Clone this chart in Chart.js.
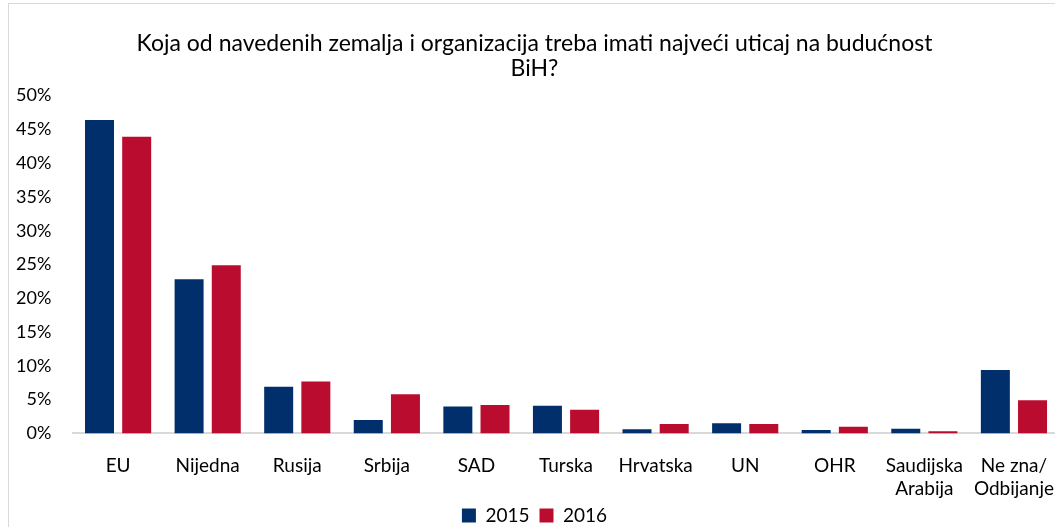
<!DOCTYPE html>
<html>
<head>
<meta charset="utf-8">
<script src="https://cdn.jsdelivr.net/npm/chart.js@4/dist/chart.umd.min.js"></script>
<style>
  html, body { margin: 0; padding: 0; background: #fff; overflow: hidden; }
  #frame { position: absolute; left: 8px; top: 3px; width: 1100px; height: 560px; border: 1px solid #d9d9d9; }
  #wrap { position: absolute; left: 0; top: 0; width: 1067px; height: 535px; }
</style>
</head>
<body>
<div id="frame"></div>
<div id="wrap"><canvas id="chart"></canvas></div>
<script>
const categories = ['EU', 'Nijedna', 'Rusija', 'Srbija', 'SAD', 'Turska', 'Hrvatska', 'UN', 'OHR', ['Saudijska', 'Arabija'], ['Ne zna/', 'Odbijanje']];
const values2015 = [46.4, 22.8, 6.9, 2.0, 4.0, 4.1, 0.6, 1.5, 0.5, 0.7, 9.4];
const values2016 = [43.9, 24.9, 7.7, 5.8, 4.2, 3.5, 1.4, 1.4, 1.0, 0.3, 4.9];
const titleLines = ['Koja od navedenih zemalja i organizacija treba imati najveći uticaj na budućnost', 'BiH?'];

const font = 'Lato, "Open Sans", sans-serif';
const squeeze = 17;

// the x scale is shrunk so the legend sits close, give its labels their clip room back
const unclipLabels = {
  id: 'unclipLabels',
  afterLayout(chart) { chart.scales.x.bottom += squeeze; }
};

const ctx = document.getElementById('chart').getContext('2d');
new Chart(ctx, {
  type: 'bar',
  data: {
    labels: categories,
    datasets: [
      { label: '2015', data: values2015, backgroundColor: '#002F6C', categoryPercentage: 0.83, barPercentage: 0.78 },
      { label: '2016', data: values2016, backgroundColor: '#BA0C2F', categoryPercentage: 0.83, barPercentage: 0.78 }
    ]
  },
  options: {
    responsive: true,
    maintainAspectRatio: false,
    animation: false,
    layout: { padding: { left: 2, top: 31, right: 0, bottom: 0 } },
    plugins: {
      title: {
        display: true,
        text: titleLines,
        color: '#000',
        font: { family: font, size: 23, weight: 'normal', lineHeight: 1.1 },
        padding: { top: 0, bottom: 14 }
      },
      legend: {
        position: 'bottom',
        labels: {
          color: '#000',
          font: { family: font, size: 19 },
          boxWidth: 14,
          boxHeight: 14,
          padding: 10
        }
      },
      tooltip: { enabled: false }
    },
    scales: {
      x: {
        grid: { display: false },
        border: { color: '#d9d9d9', width: 2 },
        ticks: { color: '#000', font: { family: font, size: 19 }, maxRotation: 0, autoSkip: false, padding: 13 },
        afterFit: scale => { scale.height -= squeeze; }
      },
      y: {
        min: 0,
        max: 50,
        grid: { display: false },
        border: { display: false },
        ticks: {
          stepSize: 5,
          color: '#000',
          font: { family: font, size: 18 },
          padding: 14,
          callback: v => v + '%'
        }
      }
    }
  },
  plugins: [unclipLabels]
});
</script>
</body>
</html>
